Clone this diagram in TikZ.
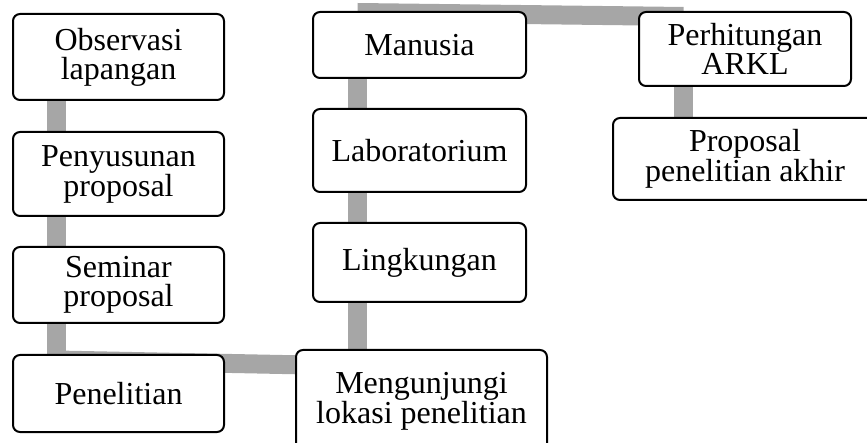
\documentclass[tikz,border=0pt]{standalone}
\usepackage{fontspec}
\setmainfont{Liberation Serif}
\usetikzlibrary{backgrounds}
\definecolor{linkgray}{RGB}{166,166,166}

\begin{document}
\begin{tikzpicture}[x=1pt,y=-1pt,
  stage/.style={draw, line width=2pt, rounded corners=7pt, fill=white, align=center, inner sep=0pt, minimum width=211pt, font=\fontsize{32}{29}\selectfont},
  link/.style={draw=linkgray, line width=19pt}]
\useasboundingbox (0,0) rectangle (867,443);
\node (obs) [stage, minimum height=86pt] at (118.5,57) {Observasi\\lapangan};
\node (peny) [stage, minimum height=84pt] at (118.5,174) {Penyusunan\\proposal};
\node (sem) [stage, minimum height=76pt] at (118.5,285) {Seminar\\proposal};
\node (pen) [stage, minimum height=77pt] at (118.5,393.5) {Penelitian};
\node (meng) [stage, minimum width=251pt, minimum height=102pt] at (421.5,401) {Mengunjungi\\lokasi penelitian};
\node (ling) [stage, minimum width=213pt, minimum height=79pt] at (419.5,262.5) {Lingkungan};
\node (lab) [stage, minimum width=213pt, minimum height=83pt] at (419.5,150.5) {Laboratorium};
\node (man) [stage, minimum width=213pt, minimum height=66pt] at (419.5,45) {Manusia};
\node (perh) [stage, minimum width=212pt, minimum height=74pt] at (745,49) {Perhitungan\\ARKL};
\node (prop) [stage, minimum width=264pt, minimum height=82pt] at (745,159) {Proposal\\penelitian akhir};
\begin{scope}[on background layer]
\draw [link] ([xshift=-62pt]obs.south) -- ([xshift=-62pt]peny.north);
\draw [link] ([xshift=-62pt]peny.south) -- ([xshift=-62pt]sem.north);
\draw [link] ([xshift=-62pt]sem.south) -- ([xshift=-62pt,yshift=-8pt]pen.north);
\draw [link] ([xshift=-62pt,yshift=-6pt]pen.north) -- ([xshift=-64pt,yshift=-17pt]meng.north);
\draw [link] ([xshift=-64pt]meng.north) -- ([xshift=-62pt]ling.south);
\draw [link] ([xshift=-62pt]ling.north) -- ([xshift=-62pt]lab.south);
\draw [link] ([xshift=-62pt]lab.north) -- ([xshift=-62pt]man.south);
\draw [link] ([xshift=-62pt,yshift=-1.5pt]man.north) -- ([xshift=-61.5pt,yshift=-5.5pt]perh.north);
\draw [link] ([xshift=-61.5pt]perh.south) -- ([xshift=-61.5pt]prop.north);
\end{scope}
\end{tikzpicture}
\end{document}
